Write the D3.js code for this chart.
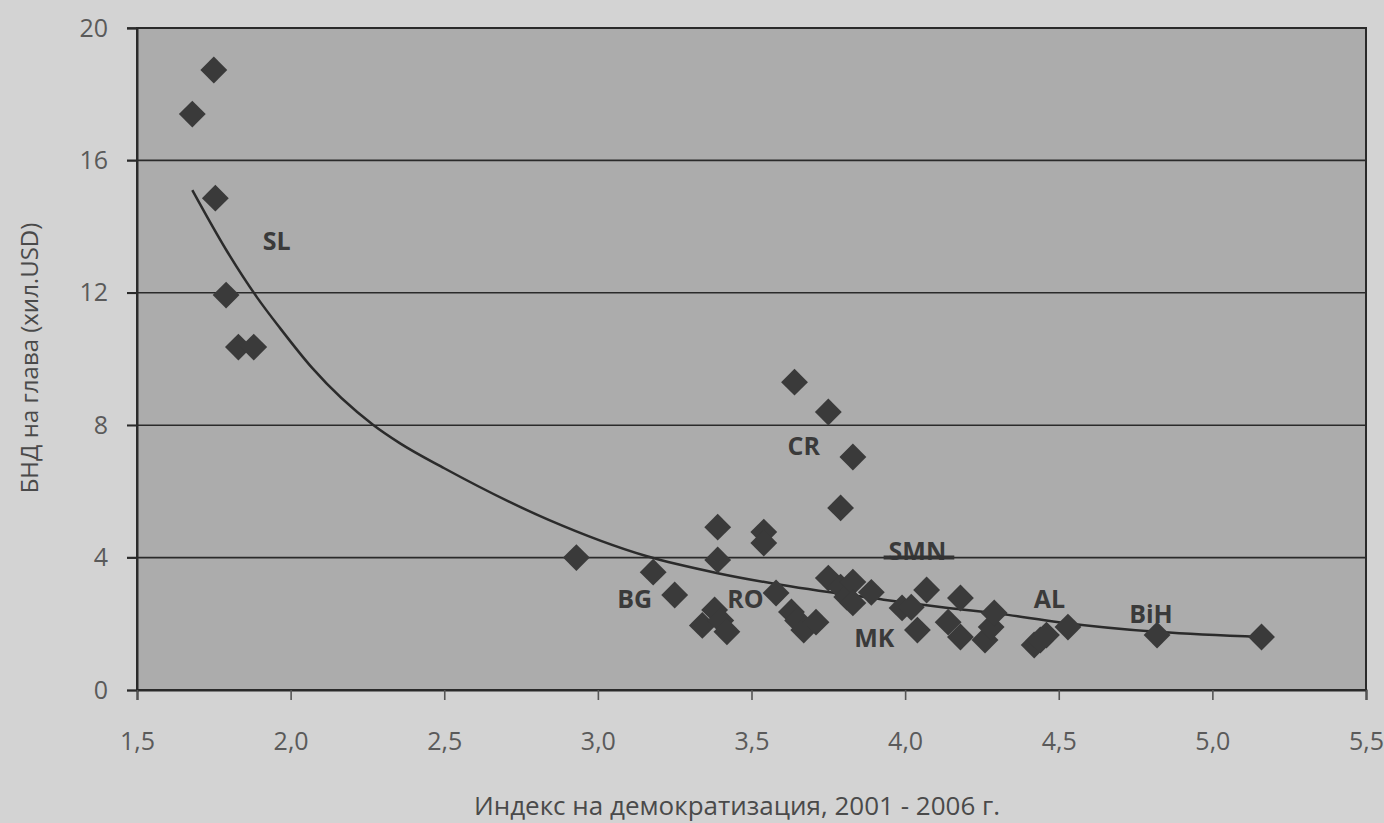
<!DOCTYPE html>
<html>
<head>
<meta charset="utf-8">
<script src="https://cdn.jsdelivr.net/npm/d3@7"></script>
<style>
  html, body { margin: 0; padding: 0; background: #d3d3d3; }
  svg { display: block; }
</style>
</head>
<body>
<svg id="chart" width="1384" height="823"></svg>
<script>
// Democratization index (x) vs GNI per capita, thousand USD (y)
const democIndex = [1.68, 1.75, 1.755, 1.79, 1.83, 1.88, 2.93, 3.18, 3.25, 3.34, 3.38, 3.40, 3.42,
  3.39, 3.39, 3.54, 3.54, 3.58, 3.63, 3.65, 3.67, 3.71, 3.64, 3.75, 3.83, 3.79,
  3.75, 3.79, 3.81, 3.83, 3.83, 3.89, 3.99, 4.02, 4.07, 4.04, 4.14, 4.18, 4.18,
  4.26, 4.28, 4.29, 4.42, 4.44, 4.46, 4.53, 4.82, 5.16];
const gniPerCapita = [17.4, 18.73, 14.86, 11.93, 10.36, 10.36, 4.0, 3.56, 2.87, 1.95, 2.42, 2.1, 1.76,
  4.92, 3.93, 4.77, 4.44, 2.93, 2.36, 2.1, 1.81, 2.05, 9.3, 8.4, 7.04, 5.5,
  3.38, 3.11, 2.81, 3.26, 2.63, 2.95, 2.48, 2.5, 3.02, 1.81, 2.05, 2.78, 1.6,
  1.51, 1.9, 2.33, 1.36, 1.51, 1.66, 1.9, 1.66, 1.6];

// Trend line
const trendX = [1.68, 1.79, 1.89, 1.965, 2.07, 2.27, 2.355, 2.5, 2.84, 3.16, 3.39, 3.6, 3.93, 4.14, 4.31, 4.5, 4.83, 5.16];
const trendY = [15.1, 13.3, 11.87, 10.94, 9.73, 8.0, 7.46, 6.7, 5.14, 4.04, 3.53, 3.17, 2.73, 2.48, 2.3, 2.05, 1.75, 1.6];

// Country labels
const labelText = ["SL", "CR", "BG", "RO", "SMN", "MK", "AL", "BiH"];
const labelX = [1.955, 3.67, 3.12, 3.48, 4.04, 3.90, 4.47, 4.80];
const labelY = [13.6, 7.4, 2.78, 2.78, 4.22, 1.6, 2.78, 2.33];

const xTicks = [1.5, 2.0, 2.5, 3.0, 3.5, 4.0, 4.5, 5.0, 5.5];
const yTicks = [0, 4, 8, 12, 16, 20];

const xTitle = "Индекс на демократизация, 2001 - 2006 г.";
const yTitle = "БНД на глава (хил.USD)";

const svg = d3.select("#chart");
const mLeft = 137, mRight = 1366, mTop = 28, mBottom = 690;
const x = d3.scaleLinear().domain([1.5, 5.5]).range([mLeft, mRight]);
const y = d3.scaleLinear().domain([0, 20]).range([mBottom, mTop]);

const fmt = d => d3.format(".1f")(d).replace(".", ",");
const font = "'Open Sans', 'Noto Sans', sans-serif";

// plot background
svg.append("rect").attr("x", mLeft).attr("y", mTop)
  .attr("width", mRight - mLeft).attr("height", mBottom - mTop)
  .attr("fill", "#acacac");

// gridlines
svg.append("g").selectAll("line").data(yTicks.filter(d => d > 0)).join("line")
  .attr("x1", mLeft - 10).attr("x2", mRight)
  .attr("y1", d => y(d)).attr("y2", d => y(d))
  .attr("stroke", "#2a2a2a").attr("stroke-width", 1.6);

// country labels
const lbl = svg.append("g");
lbl.selectAll("text").data(labelText).join("text")
  .attr("x", (d, i) => x(labelX[i]))
  .attr("y", (d, i) => y(labelY[i]))
  .attr("text-anchor", "middle")
  .attr("dominant-baseline", "central")
  .attr("font-family", font).attr("font-weight", "bold").attr("font-size", 25)
  .attr("fill", "#3a3a3a")
  .text(d => d);

// the 4 gridline partly hides the SMN label
svg.append("line").attr("x1", x(3.93)).attr("x2", x(4.16))
  .attr("y1", y(4)).attr("y2", y(4))
  .attr("stroke", "#333").attr("stroke-width", 4);

// trend line
const pts = trendX.map((d, i) => [d, trendY[i]]);
svg.append("path").datum(pts)
  .attr("d", d3.line().x(d => x(d[0])).y(d => y(d[1])).curve(d3.curveMonotoneX))
  .attr("fill", "none").attr("stroke", "#2b2b2b").attr("stroke-width", 2.5);

// points (diamonds)
const sym = d3.symbol().type(d3.symbolSquare).size(360);
svg.append("g").selectAll("path").data(democIndex).join("path")
  .attr("transform", (d, i) => `translate(${x(d)},${y(gniPerCapita[i])}) rotate(45)`)
  .attr("d", sym)
  .attr("fill", "#3a3a3a");

// axes frame
svg.append("rect").attr("x", mLeft).attr("y", mTop)
  .attr("width", mRight - mLeft).attr("height", mBottom - mTop)
  .attr("fill", "none").attr("stroke", "#2a2a2a").attr("stroke-width", 2);

// y axis
const yAxis = svg.append("g").attr("transform", `translate(${mLeft},0)`)
  .call(d3.axisLeft(y).tickValues(yTicks).tickSize(10).tickPadding(19).tickFormat(d => d));
yAxis.select(".domain").attr("stroke", "#2a2a2a").attr("stroke-width", 2);
yAxis.selectAll(".tick line").attr("stroke", "#2a2a2a").attr("stroke-width", 1.6);
yAxis.selectAll("text").attr("font-family", font).attr("font-size", 25).attr("fill", "#5a5a5a");

// x axis
const xAxis = svg.append("g").attr("transform", `translate(0,${mBottom})`)
  .call(d3.axisBottom(x).tickValues(xTicks).tickSize(10).tickPadding(32).tickFormat(fmt));
xAxis.select(".domain").attr("stroke", "#2a2a2a").attr("stroke-width", 2);
xAxis.selectAll(".tick line").attr("stroke", "#555").attr("stroke-width", 1.6);
xAxis.selectAll("text").attr("font-family", font).attr("font-size", 25).attr("fill", "#5a5a5a");

// axis titles
svg.append("text").attr("x", 737).attr("y", 815).attr("text-anchor", "middle")
  .attr("font-family", font).attr("font-size", 26).attr("fill", "#4a4a4a").text(xTitle);
svg.append("text").attr("transform", "translate(38,358) rotate(-90)").attr("text-anchor", "middle")
  .attr("font-family", font).attr("font-size", 24).attr("fill", "#4a4a4a").text(yTitle);
</script>
</body>
</html>
